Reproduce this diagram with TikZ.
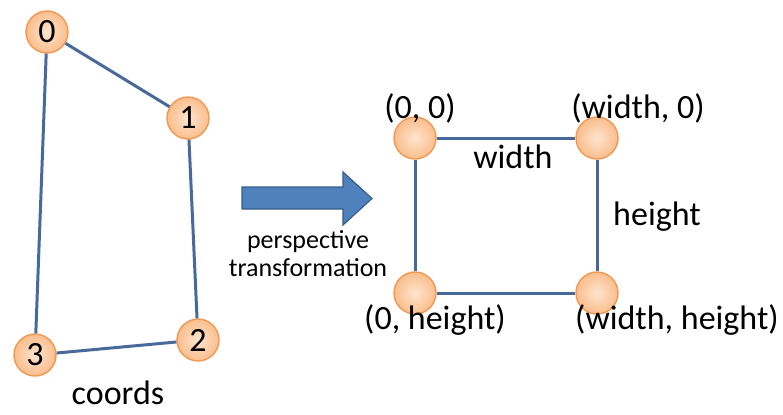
\documentclass[tikz,border=0pt]{standalone}
\usepackage{fontspec}
\setmainfont{Carlito}
\definecolor{edgeblue}{RGB}{72,106,155}
\definecolor{ballin}{RGB}{254,228,206}
\definecolor{ballout}{RGB}{250,190,140}
\definecolor{ballrim}{RGB}{242,152,82}
\definecolor{arrowfill}{RGB}{79,129,189}
\definecolor{arrowrim}{RGB}{56,93,138}

\begin{document}
\begin{tikzpicture}[x=0.5pt,y=-0.5pt,
                    ball/.style={circle,draw=ballrim,line width=0.7pt,
                                 inner color=ballin,outer color=ballout,
                                 minimum size=21pt,inner sep=0pt,
                                 font=\fontsize{17}{17}\selectfont},
                    edge/.style={draw=edgeblue,line width=1.5pt},
                    lbl/.style={inner sep=0pt,font=\fontsize{17}{20}\selectfont}]
  \useasboundingbox (0,0) rectangle (783,414);
  % source quadrilateral
  \node[ball] (p0) at (47,32) {0};
  \node[ball] (p1) at (188,118) {1};
  \node[ball] (p2) at (198,340) {2};
  \node[ball] (p3) at (35,355) {3};
  \draw[edge] (p0) -- (p1) -- (p2) -- (p3) -- (p0);
  \node[lbl] (coords) at (118,393) {coords};
  % transformation arrow
  \draw[fill=arrowfill,draw=arrowrim,line width=0.6pt]
    (242,187) -- (343,187) -- (343,172) -- (372,198.5)
    -- (343,225) -- (343,209) -- (242,209) -- cycle;
  \node[inner sep=0pt,align=center,font=\fontsize{13}{14}\selectfont]
    (persp) at (308,254) {perspective\\transformation};
  % destination rectangle
  \node[ball] (tl) at (415,138) {};
  \node[ball] (tr) at (597,138) {};
  \node[ball] (bl) at (415,293) {};
  \node[ball] (br) at (597,293) {};
  \draw[edge] (tl) -- (tr) -- (br) -- (bl) -- (tl);
  \node[lbl] (tllbl) at (420,108) {(0, 0)};
  \node[lbl] (trlbl) at (638,108) {(width, 0)};
  \node[lbl] (bllbl) at (435,320) {(0, height)};
  \node[lbl] (brlbl) at (677,320) {(width, height)};
  \node[lbl] (wlbl) at (513,157) {width};
  \node[lbl] (hlbl) at (657,217) {height};
\end{tikzpicture}
\end{document}
